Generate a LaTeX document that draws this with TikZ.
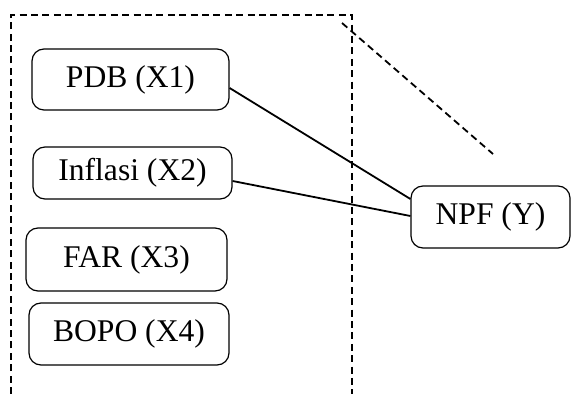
\documentclass[tikz,border=0pt]{standalone}
\usepackage{fontspec}
\setmainfont{Liberation Serif}
\usepackage{tikz}

\begin{document}
\begin{tikzpicture}[x=0.5pt,y=-0.5pt,
        varbox/.style={draw,line width=0.6pt,rounded corners=6pt,inner sep=0pt,
            font=\fontsize{15.8}{19}\selectfont},
        link/.style={line width=0.9pt},
        frame/.style={line width=0.9pt,dash pattern=on 3.5pt off 2.2pt}]
        \useasboundingbox (0,0) rectangle (571,394);
        % dashed frame round the independent variables
        \draw[frame] (11,394) -- (11,15) -- (352,15) -- (352,394);
        \draw[frame] (342,23) -- (493,154);
        % variables
        \node[varbox,minimum width=98.5pt,minimum height=30.5pt] (pdb) at (130.5,79.5) {PDB (X1)};
        \node[varbox,minimum width=99.5pt,minimum height=26pt] (inf) at (132.5,173) {Inflasi (X2)};
        \node[varbox,minimum width=100.5pt,minimum height=31.5pt] (far) at (126.5,259.5) {FAR (X3)};
        \node[varbox,minimum width=100pt,minimum height=31pt] (bopo) at (129,334) {BOPO (X4)};
        \node[varbox,minimum width=79.5pt,minimum height=31pt] (npf) at (490.5,217) {NPF (Y)};
        % links to NPF
        \draw[link] ([yshift=-4.25pt]pdb.east) -- ([yshift=9pt]npf.west);
        \draw[link] ([yshift=-4pt]inf.east) -- ([yshift=0.5pt]npf.west);
    \end{tikzpicture}
\end{document}
